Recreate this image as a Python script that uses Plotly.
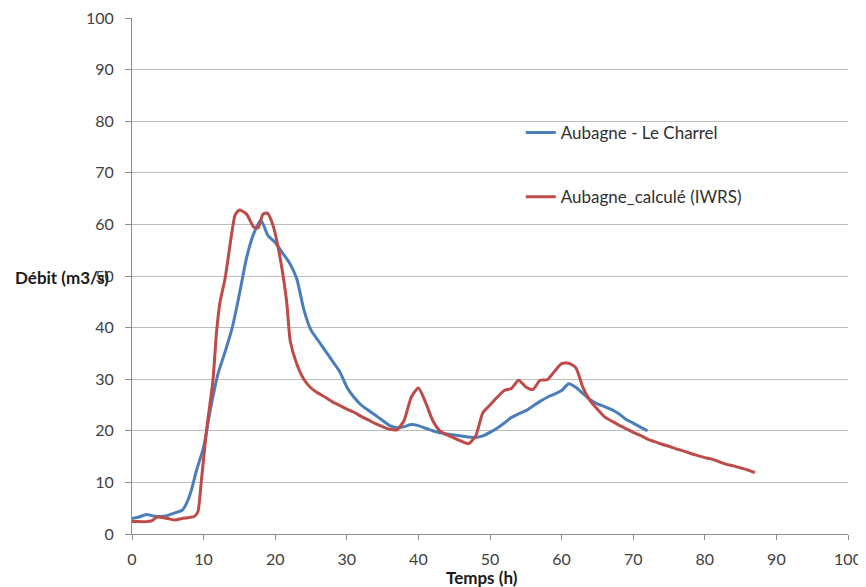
import plotly.graph_objects as go

# Aubagne - Le Charrel (observed)
obs_t = [0, 1, 2, 3, 4, 5, 6, 7, 7.6, 8.3, 9, 10, 11, 12, 13, 14, 15, 16, 17, 18, 19, 20, 21, 22, 23,
         24, 25, 26, 27, 28, 29, 30, 31, 32, 33, 34, 35, 36, 37, 38, 39, 40, 41, 42, 43, 44, 45, 46, 47,
         48, 49, 50, 51, 52, 53, 54, 55, 56, 57, 58, 59, 60, 61, 62, 63, 64, 65, 66, 67, 68, 69, 70, 71, 72]
obs_q = [3, 3.3, 3.8, 3.5, 3.4, 3.6, 4.1, 4.6, 5.9, 8.5, 12.3, 16.8, 24.5, 31, 35.3, 40, 46.5, 53.5, 58.2, 60.8,
         57.8, 56.5, 54.5, 52.5, 49.5, 43.5, 39.5, 37.5, 35.5, 33.5, 31.5, 28.5, 26.5, 25, 24, 23, 22, 21, 20.6,
         20.8, 21.2, 21, 20.5, 20, 19.6, 19.4, 19.2, 19, 18.8, 18.7, 19, 19.7, 20.5, 21.5, 22.6, 23.3, 23.9, 24.8,
         25.7, 26.5, 27.1, 27.8, 29.1, 28.4, 27.2, 26, 25.2, 24.7, 24.1, 23.3, 22.2, 21.5, 20.7, 20]

# Aubagne_calculé (IWRS)
sim_t = [0, 1, 2, 2.8, 3.5, 5, 6, 7, 8, 8.7, 9.2, 9.7, 10.4, 11.3, 11.8, 12.3, 13, 13.9, 14.4, 15, 16, 17,
         17.6, 18.3, 18.9, 19.7, 20.7, 21.6, 22.1, 23, 24, 25, 26, 27, 28, 29, 30, 31, 32, 33, 34, 35, 36, 37,
         38, 39, 40, 41, 42, 43, 44, 45, 46, 47, 48, 49, 50, 51, 52, 53, 54, 55, 56, 57, 58, 59, 60, 61, 62,
         63, 64, 65, 66, 67, 68, 69, 70, 71, 72, 73, 74, 75, 76, 77, 78, 79, 80, 81, 82, 83, 84, 85, 86, 87]
sim_q = [2.4, 2.4, 2.4, 2.6, 3.3, 3, 2.7, 3, 3.2, 3.4, 4.3, 10.5, 20, 29.7, 39, 45, 49.5, 58, 61.8, 62.8, 62,
         59.5, 59.3, 62, 62.2, 59.8, 53.4, 45, 37.4, 33, 30, 28.3, 27.3, 26.5, 25.6, 24.9, 24.2, 23.6, 22.8, 22.1,
         21.4, 20.8, 20.3, 20.2, 22, 26.5, 28.3, 25.5, 22, 20, 19.2, 18.6, 18, 17.5, 19, 23.5, 25, 26.5, 27.8,
         28.2, 29.8, 28.5, 28, 29.8, 29.9, 31.5, 33, 33.1, 32.2, 28.3, 25.8, 24.2, 22.7, 21.9, 21.1, 20.4, 19.7,
         19.1, 18.4, 17.9, 17.4, 17, 16.5, 16.1, 15.6, 15.2, 14.8, 14.5, 14.0, 13.5, 13.2, 12.8, 12.4, 11.9]

x_ticks = list(range(0, 101, 10))
y_ticks = list(range(0, 101, 10))

FONT = "Lato, 'Open Sans', sans-serif"

fig = go.Figure()
fig.add_trace(go.Scatter(x=obs_t, y=obs_q, mode="lines", name="Aubagne - Le Charrel",
                         line=dict(color="#4a7ebb", width=3, shape="spline", smoothing=0.6),
                         legendgroup="a"))
fig.add_trace(go.Scatter(x=sim_t, y=sim_q, mode="lines", name="Aubagne_calculé (IWRS)",
                         line=dict(color="#be4b48", width=3, shape="spline", smoothing=0.6),
                         legendgroup="b"))

axis_font = dict(family=FONT, size=16, color="#404040")
fig.update_layout(
    width=858, height=579,
    margin=dict(l=124, r=18, t=10, b=53),
    paper_bgcolor="white", plot_bgcolor="white",
    font=axis_font,
    showlegend=True,
    legend=dict(x=0.543, y=0.812, xanchor="left", yanchor="top", bgcolor="rgba(0,0,0,0)",
                tracegroupgap=39, font=dict(family=FONT, size=17, color="#303030")),
    xaxis=dict(range=[0, 100], tickvals=x_ticks, showgrid=False, showline=True, linecolor="#8c8c8c",
               linewidth=1, ticks="outside", ticklen=5, tickcolor="#8c8c8c", zeroline=False,
               tickfont=axis_font, ticklabelstandoff=6, ticklabeloverflow="allow", automargin=False),
    yaxis=dict(range=[0, 100], tickvals=y_ticks, showgrid=True, gridcolor="#bdbdbd", gridwidth=1,
               showline=True, linecolor="#8c8c8c", linewidth=1, ticks="outside", ticklen=6,
               tickcolor="#8c8c8c", zeroline=False, tickfont=axis_font, ticklabelstandoff=8,
               ticklabeloverflow="allow", automargin=False),
    annotations=[
        dict(text="<b>Débit (m3/s)</b>", x=0, xref="paper", xshift=-119, y=49.8, yref="y",
             xanchor="left", yanchor="middle", showarrow=False,
             font=dict(family=FONT, size=17, color="#1a1a1a")),
        dict(text="<b>Temps (h)</b>", x=0.4888, xref="paper", y=0, yref="paper", yshift=-43,
             xanchor="center", yanchor="middle", showarrow=False,
             font=dict(family=FONT, size=17, color="#1a1a1a")),
    ],
)

fig.write_html("out.html")
